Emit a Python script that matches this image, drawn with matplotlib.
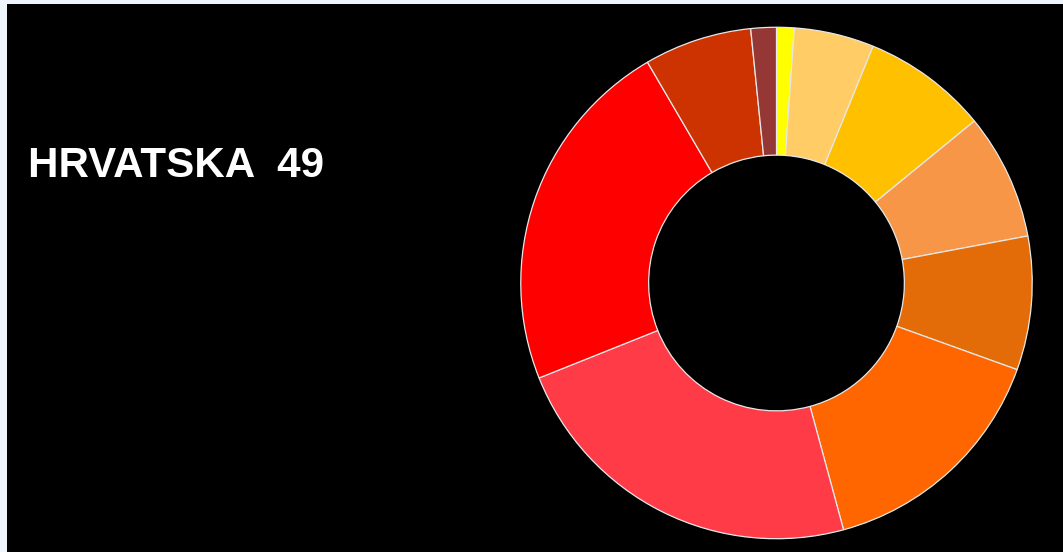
import matplotlib
matplotlib.use("Agg")
import matplotlib.pyplot as plt
from matplotlib.patches import Rectangle

categories = ["A", "B", "C", "D", "E", "F", "G", "H", "I", "J"]
values = [4.0, 18.2, 28.5, 28.7, 30.4, 55.0, 83.4, 81.5, 24.5, 5.8]
colors = ["#FFFF00", "#FFCC66", "#FFC000", "#F79646", "#E36C09",
          "#FF6600", "#FF3B47", "#FF0000", "#CC3300", "#953735"]
title_text = "HRVATSKA  49"

W, H = 1063, 552
fig = plt.figure(figsize=(W / 100, H / 100), dpi=100)
fig.patch.set_facecolor("#EEF5FC")
fig.add_artist(Rectangle((7 / W, 0), 1 - 7 / W, 1 - 4 / H, transform=fig.transFigure,
                         facecolor="black", edgecolor="none", zorder=0))

fig.text(28 / W, 1 - 177 / H, title_text, color="white", fontsize=30.3,
         fontweight="bold", family="Liberation Sans", ha="left", va="baseline")

cx, cy, r = 776.5, 283, 257
ax = fig.add_axes([(cx - r) / W, (H - cy - r) / H, 2 * r / W, 2 * r / H])
ax.set_facecolor("none")
ax.pie(values, colors=colors, startangle=90, counterclock=False, radius=1,
       wedgeprops=dict(width=0.5, edgecolor="#E8E8E8", linewidth=0.9))
ax.set_xlim(-1.005, 1.005)
ax.set_ylim(-1.005, 1.005)
ax.set_aspect("equal")
ax.axis("off")

fig.savefig("out.png", dpi=100, facecolor=fig.get_facecolor())
